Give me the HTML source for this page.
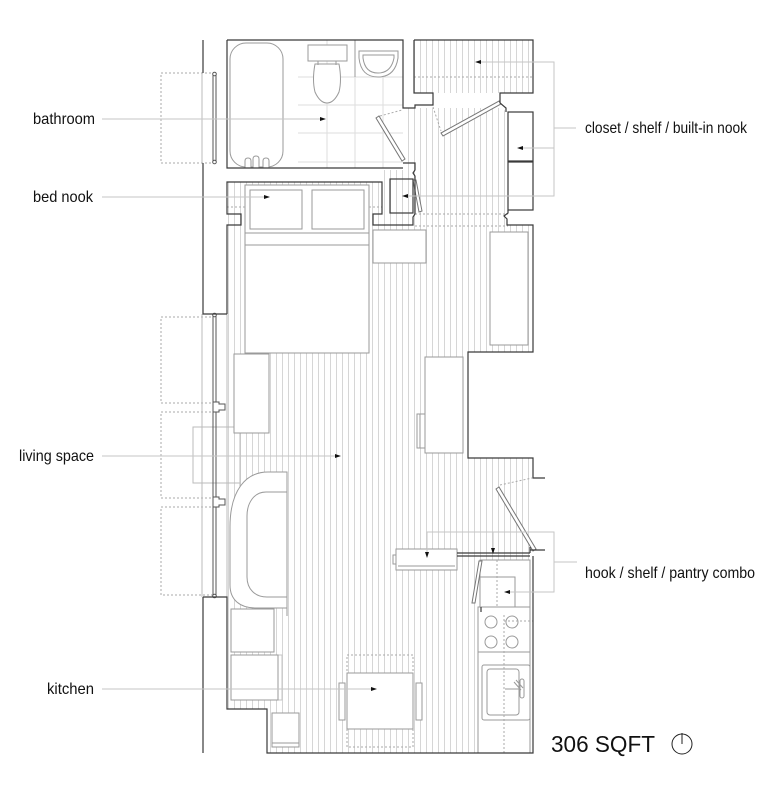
<!DOCTYPE html>
<html><head><meta charset="utf-8"><style>
html,body{margin:0;padding:0;background:#fff;}
svg{display:block;}
text{font-family:"Liberation Sans",Arial,sans-serif;fill:#111;}
</style></head><body>
<svg width="782" height="800" viewBox="0 0 782 800" xmlns="http://www.w3.org/2000/svg">
<defs>
<pattern id="h" x="0" y="0" width="6" height="10" patternUnits="userSpaceOnUse"><rect x="0" y="0" width="1" height="10" fill="#d6d6d6"/></pattern>
</defs>
<rect width="782" height="800" fill="#fff"/>

<!-- floor hatch -->
<rect x="414" y="40" width="119" height="53" fill="url(#h)"/>
<polygon points="227,182 382,182 382,170 405,170 405,108 500,108 508,112 508,225 533,225 533,352 468,352 468,458 533,458 533,607 478,607 478,753 267,753 267,709 227,709" fill="url(#h)"/>

<!-- bathroom tile grid -->
<g stroke="#dedede" stroke-width="1" fill="none">
<path d="M327,40V168M355,77V168M383,77V168M298,105H403M298,133H403M298,162H403M298,77H403"/>
</g>

<!-- window projections (dashed) -->
<g stroke="#aaa" stroke-width="1" fill="none" stroke-dasharray="2,2">
<rect x="161" y="73" width="52" height="90"/>
<rect x="161" y="317" width="52" height="86"/>
<rect x="161" y="412" width="52" height="86"/>
<rect x="161" y="507" width="52" height="88"/>
</g>
<!-- window frames / glazing -->
<g stroke="#bbb" stroke-width="1" fill="none">
<path d="M202,73V163M202,314V597M227,314V597M240,427V597"/>
<rect x="193" y="427" width="47" height="56"/>
</g>
<g stroke="#555" stroke-width="1" fill="none">
<path d="M213,73V163M216,73V163M213,314V597M216,314V597"/>
<circle cx="214.5" cy="74" r="1.8" fill="#fff"/>
<circle cx="214.5" cy="162" r="1.8" fill="#fff"/>
<circle cx="214.5" cy="315" r="1.8" fill="#fff"/>
<circle cx="214.5" cy="596" r="1.8" fill="#fff"/>
<path d="M213,402H219V404H225V410H219V412H213Z" fill="#fff"/>
<path d="M213,497H219V499H225V505H219V507H213Z" fill="#fff"/>
</g>

<!-- furniture (white fills, gray strokes) -->
<g stroke="#9a9a9a" stroke-width="1" fill="#fff">
<!-- tub -->
<rect x="230" y="43" width="53" height="124" rx="16"/>
<path d="M245,168V161Q245,158 248,158Q251,158 251,161V168M253,168V159Q253,156 256,156Q259,156 259,159V168M263,168V161Q263,158 266,158Q269,158 269,161V168" fill="#fff"/>
<!-- toilet -->
<rect x="308" y="45" width="39" height="16"/>
<path d="M315,64Q312,80 315,92Q320,103 327,103Q334,103 339,92Q342,80 339,64Z"/>
<path d="M318,61V65M336,61V65" fill="none"/>
<!-- sink -->
<path d="M355,40V77" fill="none"/>
<path d="M359,51H398V58Q395,77 378,77Q361,77 359,58Z"/>
<path d="M363,55H394V58Q391,73 378,73Q365,73 363,58Z"/>
<!-- bed -->
<rect x="245" y="185" width="124" height="168"/>
<rect x="250" y="190" width="52" height="39"/>
<rect x="312" y="190" width="52" height="39"/>
<path d="M245,233H369M245,245H369" fill="none"/>
<!-- side box by bed -->
<rect x="373" y="230" width="53" height="33"/>
<!-- wardrobe -->
<rect x="490" y="232" width="38" height="113"/>
<!-- chest left -->
<rect x="234" y="354" width="35" height="79"/>
<!-- desk -->
<rect x="417" y="414" width="8" height="34"/>
<path d="M420,414V448" fill="none"/>
<rect x="425" y="357" width="38" height="96"/>
<!-- sofa -->
<path d="M287,472L268,472C246,472 230,490 230,527L230,585C230,600 240,608 256,608L287,608Z"/>
<path d="M287,492L266,492C254,492 247,503 247,516L247,577C247,589 255,597 267,597L287,597" fill="none"/>
<path d="M287,472V616" fill="none"/>
<!-- kitchen cabinets -->
<rect x="231" y="609" width="43" height="43"/>
<rect x="231" y="655" width="51" height="45" stroke="#c4c4c4"/>
<rect x="231" y="655" width="47" height="45"/>
<rect x="272" y="713" width="27" height="34"/>
<path d="M272,743H299" fill="none"/>
<!-- table -->
<rect x="347" y="655" width="66" height="92" fill="none" stroke="#aaa" stroke-dasharray="2,2"/>
<rect x="339" y="683" width="6" height="37"/>
<rect x="416" y="683" width="6" height="37"/>
<rect x="347" y="673" width="66" height="56"/>
<!-- kitchen counter -->
<rect x="478" y="607" width="52" height="146"/>
<path d="M478,652H530" fill="none"/>
<circle cx="491" cy="622" r="6"/>
<circle cx="512" cy="622" r="6"/>
<circle cx="491" cy="642" r="6"/>
<circle cx="512" cy="642" r="6"/>
<rect x="482" y="665" width="48" height="55" rx="2"/>
<rect x="487" y="669" width="32" height="46" rx="3"/>
<path d="M505,689H520" fill="none"/>
<rect x="520" y="679" width="4" height="19" rx="2"/>
<path d="M514,682L521,690M516,680L523,688" fill="none"/>
<!-- pantry -->
<rect x="480" y="560" width="50" height="47"/>
<path d="M480,577H515V607" fill="none"/>
<!-- hook shelf -->
<rect x="393" y="555" width="4" height="9"/>
<rect x="396" y="549" width="61" height="21"/>
<path d="M398,566H455" fill="none"/>
</g>
<g stroke="#aaa" stroke-width="1" fill="none" stroke-dasharray="2,2">
<path d="M504,615V753M504,621H533M497,560V607"/>
<path d="M227,207H245M369,207H382"/>
<path d="M415,214H508M415,226H508"/>
<path d="M433,107L441,131M380,116L402,110M500,485L532,478"/>
<path d="M414,77H533"/>
</g>

<!-- doors -->
<g stroke="#777" stroke-width="1" fill="#fff">
<polygon points="376,118 379,116 405,159 402,161"/>
<polygon points="441,133 499,101 501,104 443,136"/>
<polygon points="413,180 416,180 422,211 419,212"/>
<polygon points="496,489 499,487 536,549 533,551"/>
<polygon points="479,561 482,561 475,603 472,603"/>
</g>

<!-- walls -->
<g stroke="#3a3a3a" stroke-width="1.2" fill="none" stroke-linejoin="miter">
<path d="M203,40V73M203,163V314H227M203,597V753"/>
<path d="M203,597H227V709H267V753H533V607"/>
<path d="M227,40V168H403"/>
<path d="M227,40H403V108H415V105H433V93H414V40"/>
<path d="M414,40H533V93H500V103L506,108V112"/>
<path d="M403,163H415V170L413,173L415,176V214L413,217V225H373V214H382V182H227V214H241V225H227V314"/>
<rect x="390" y="179" width="23" height="34"/>
<rect x="508" y="112" width="25" height="49"/>
<rect x="508" y="162" width="25" height="48"/>
<path d="M508,210V213L504,216L507,219V225H533V352H468V458H533V478H545"/>
<path d="M530,550H545M530,547V553"/>
<path d="M457,553H530M457,556H530"/>
<path d="M533,556V607"/>
<path d="M481,607V612"/>
</g>

<!-- leader lines -->
<g stroke="#c6c6c6" stroke-width="1" fill="none">
<path d="M102,119H321M102,197H265M102,456H336M102,689H372"/>
<path d="M477,62H554V196H405M522,148H554M554,128H576"/>
<path d="M427,553V532H554V592H506M493,532V548M554,562H577"/>
</g>
<g fill="#111">
<polygon points="320,117 326,119 320,121"/>
<polygon points="264,195 270,197 264,199"/>
<polygon points="335,454 341,456 335,458"/>
<polygon points="371,687 377,689 371,691"/>
<polygon points="481,60 475,62 481,64"/>
<polygon points="523,146 517,148 523,150"/>
<polygon points="408,194 402,196 408,198"/>
<polygon points="425,552 427,558 429,552"/>
<polygon points="491,548 493,554 495,548"/>
<polygon points="510,590 504,592 510,594"/>
</g>

<!-- labels -->
<text x="33" y="124" font-size="16" textLength="62" lengthAdjust="spacingAndGlyphs">bathroom</text>
<text x="33" y="202" font-size="16" textLength="60" lengthAdjust="spacingAndGlyphs">bed nook</text>
<text x="19" y="461" font-size="16" textLength="75" lengthAdjust="spacingAndGlyphs">living space</text>
<text x="47" y="694" font-size="16" textLength="47" lengthAdjust="spacingAndGlyphs">kitchen</text>
<text x="585" y="133" font-size="16" textLength="162" lengthAdjust="spacingAndGlyphs">closet / shelf / built-in nook</text>
<text x="585" y="578" font-size="16" textLength="170" lengthAdjust="spacingAndGlyphs">hook / shelf / pantry combo</text>
<text x="551" y="752" font-size="23" textLength="104" lengthAdjust="spacingAndGlyphs">306 SQFT</text>
<circle cx="682" cy="744" r="10" fill="none" stroke="#222" stroke-width="1"/>
<path d="M682,733V744" stroke="#222" stroke-width="1"/>
</svg>
</body></html>
